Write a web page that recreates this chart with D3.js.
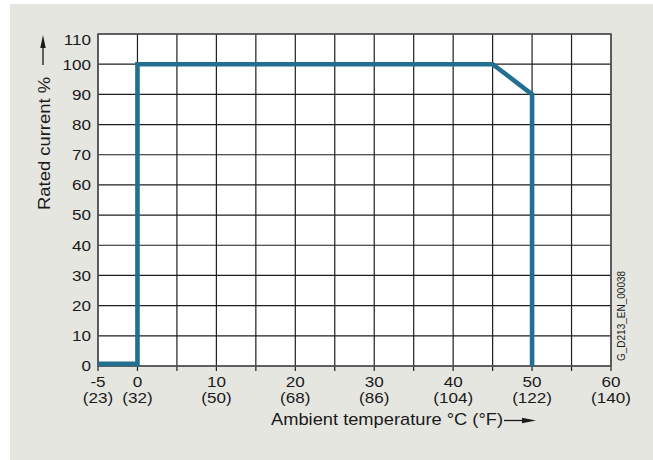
<!DOCTYPE html>
<html>
<head>
<meta charset="utf-8">
<script src="https://cdn.jsdelivr.net/npm/d3@7/dist/d3.min.js"></script>
<style>
  html, body { margin: 0; padding: 0; background: #ffffff; }
  svg { display: block; }
  text { font-family: "Liberation Sans", Arial, sans-serif; fill: #1a1a1a; }
</style>
</head>
<body>
<svg id="chart" width="653" height="460"></svg>
<script>
// Ambient temperature ticks (°C) and their Fahrenheit equivalents
const tempCelsius = [-5, 0, 10, 20, 30, 40, 50, 60];
const tempFahrenheit = ["(23)", "(32)", "(50)", "(68)", "(86)", "(104)", "(122)", "(140)"];
// Vertical grid every 5 °C
const gridCelsius = [-5, 0, 5, 10, 15, 20, 25, 30, 35, 40, 45, 50, 55, 60];
// Rated current ticks (%)
const currentTicks = [0, 10, 20, 30, 40, 50, 60, 70, 80, 90, 100, 110];
// Derating curve
const curveTemp = [-5, 0, 0, 45, 50, 50];
const curveCurrent = [0.7, 0.7, 100, 100, 90, 0];

const svg = d3.select("#chart");
const W = 653, H = 460;
const plot = { left: 98, right: 611, top: 34, bottom: 366 };

// panel background
svg.append("rect").attr("x", 10).attr("y", 4).attr("width", W - 10).attr("height", H - 4)
  .attr("fill", "#e6e6e1");

const x = d3.scaleLinear().domain([-5, 60]).range([plot.left, plot.right]);
const y = d3.scaleLinear().domain([0, 110]).range([plot.bottom, plot.top]);

// plot area
svg.append("rect")
  .attr("x", plot.left).attr("y", plot.top)
  .attr("width", plot.right - plot.left).attr("height", plot.bottom - plot.top)
  .attr("fill", "#ffffff");

const grid = svg.append("g").attr("stroke", "#1e1e1e").attr("stroke-width", 1.2);
grid.selectAll("line.v").data(gridCelsius).join("line")
  .attr("x1", d => x(d)).attr("x2", d => x(d))
  .attr("y1", plot.top).attr("y2", plot.bottom + 5);
grid.selectAll("line.h").data(currentTicks).join("line")
  .attr("x1", plot.left).attr("x2", plot.right)
  .attr("y1", d => y(d)).attr("y2", d => y(d));

// frame
svg.append("rect")
  .attr("x", plot.left).attr("y", plot.top)
  .attr("width", plot.right - plot.left).attr("height", plot.bottom - plot.top)
  .attr("fill", "none").attr("stroke", "#555").attr("stroke-width", 1.6);

// derating curve
const pts = curveTemp.map((t, i) => [t, curveCurrent[i]]);
svg.append("path")
  .attr("d", d3.line().x(d => x(d[0])).y(d => y(d[1]))(pts))
  .attr("fill", "none").attr("stroke", "#236f8f").attr("stroke-width", 4.6)
  .attr("stroke-linejoin", "miter");

// y tick labels (the top one is kept inside the frame)
const hs = 1.14; // horizontal stretch of the lettering
const tickSize = 15;
svg.append("g").selectAll("text").data(currentTicks).join("text")
  .attr("transform", d => `translate(91,${Math.max(y(d) + 5.4, plot.top + 11)}) scale(${hs},1)`)
  .attr("text-anchor", "end").attr("font-size", tickSize)
  .text(d => d);

// x tick labels (°C and °F)
const xl = svg.append("g");
xl.selectAll("text.c").data(tempCelsius).join("text")
  .attr("transform", d => `translate(${x(d)},386.5) scale(${hs},1)`)
  .attr("text-anchor", "middle").attr("font-size", tickSize)
  .text(d => d);
xl.selectAll("text.f").data(tempFahrenheit).join("text")
  .attr("transform", (d, i) => `translate(${x(tempCelsius[i])},403) scale(${hs},1)`)
  .attr("text-anchor", "middle").attr("font-size", tickSize)
  .text(d => d);

// axis titles with arrows
svg.append("text")
  .attr("x", 271).attr("y", 425)
  .attr("font-size", 17)
  .attr("textLength", 232).attr("lengthAdjust", "spacingAndGlyphs")
  .text("Ambient temperature °C (°F)");
svg.append("line").attr("x1", 504).attr("x2", 524).attr("y1", 420.5).attr("y2", 420.5)
  .attr("stroke", "#1a1a1a").attr("stroke-width", 1.3);
svg.append("path").attr("d", "M536,420.5 L522,417.8 L522,423.2 Z").attr("fill", "#1a1a1a");

svg.append("text")
  .attr("transform", "translate(49.5,210) rotate(-90)")
  .attr("font-size", 17)
  .attr("textLength", 133).attr("lengthAdjust", "spacingAndGlyphs")
  .text("Rated current %");
svg.append("line").attr("x1", 43).attr("x2", 43).attr("y1", 65).attr("y2", 46)
  .attr("stroke", "#1a1a1a").attr("stroke-width", 1.3);
svg.append("path").attr("d", "M43,35 L40.3,48 L45.7,48 Z").attr("fill", "#1a1a1a");

// drawing code
svg.append("text")
  .attr("transform", "translate(625,361) rotate(-90)")
  .attr("font-size", 10).attr("fill", "#333")
  .text("G_D213_EN_00038");
</script>
</body>
</html>
